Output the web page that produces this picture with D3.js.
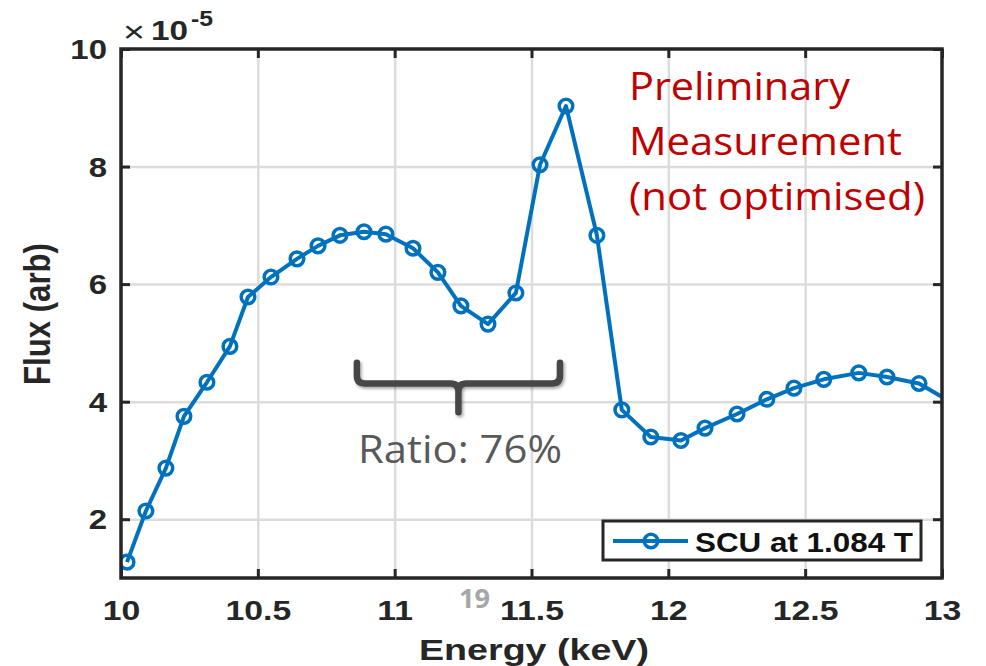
<!DOCTYPE html>
<html>
<head>
<meta charset="utf-8">
<script src="https://cdn.jsdelivr.net/npm/d3@7"></script>
<style>
  html, body { margin: 0; padding: 0; background: #ffffff; }
  svg { display: block; }
</style>
</head>
<body>
<svg id="chart" width="986" height="666"></svg>
<script>
// ---- data ----
const energy = [10.022, 10.091, 10.164, 10.230, 10.314, 10.398, 10.464, 10.548, 10.643, 10.720,
                10.800, 10.888, 10.968, 11.067, 11.158, 11.242, 11.341, 11.443, 11.531, 11.626,
                11.739, 11.830, 11.936, 12.046, 12.134, 12.251, 12.360, 12.459, 12.568, 12.696,
                12.799, 12.916, 13.030];
const flux = [1.27, 2.14, 2.87, 3.75, 4.33, 4.94, 5.78, 6.12, 6.43, 6.65,
              6.83, 6.89, 6.85, 6.61, 6.20, 5.63, 5.32, 5.85, 8.03, 9.03,
              6.83, 3.86, 3.40, 3.34, 3.55, 3.79, 4.04, 4.23, 4.38, 4.49,
              4.42, 4.31, 4.00];
const xTicks = [10, 10.5, 11, 11.5, 12, 12.5, 13];
const yTicks = [2, 4, 6, 8, 10];
const xTickLabels = ["10", "10.5", "11", "11.5", "12", "12.5", "13"];
const yTickLabels = ["2", "4", "6", "8", "10"];
const seriesName = "SCU at 1.084 T";
const noteLines = ["Preliminary", "Measurement", "(not optimised)"];
const ratioLabel = "Ratio: 76%";
const braceRange = [10.862, 11.604];   // energy span of the bracket
const braceLevels = [4.66, 4.31, 3.82]; // top of arms, bar, tip

// ---- layout ----
const svg = d3.select("#chart");
const L = 121, R = 942, T = 49, B = 578;
const x = d3.scaleLinear().domain([10, 13]).range([L, R]);
const y = d3.scaleLinear().domain([1, 10]).range([B, T]);
const axisColor = "#262626";
const lineColor = "#0072BD";

function fitWidth(sel, w) {
  sel.attr("textLength", w).attr("lengthAdjust", "spacingAndGlyphs");
}
function stretch(sel, f) {
  sel.each(function () {
    const w = this.getComputedTextLength();
    this.setAttribute("textLength", w * f);
    this.setAttribute("lengthAdjust", "spacingAndGlyphs");
  });
}

svg.append("defs").append("clipPath").attr("id", "plotclip")
  .append("rect").attr("x", L).attr("y", T).attr("width", R - L).attr("height", B - T);

// ---- grid ----
const gridX = svg.append("g").attr("transform", `translate(0,${B})`)
  .call(d3.axisBottom(x).tickValues(xTicks.slice(1, -1)).tickSize(-(B - T)).tickFormat(""));
const gridY = svg.append("g").attr("transform", `translate(${L},0)`)
  .call(d3.axisLeft(y).tickValues(yTicks.slice(0, -1)).tickSize(-(R - L)).tickFormat(""));
[gridX, gridY].forEach(g => {
  g.select(".domain").remove();
  g.selectAll("line").attr("stroke", "#dcdcdc").attr("stroke-width", 2.5);
});

// ---- data line + markers ----
const pts = energy.map((e, i) => [e, flux[i]]);
const plot = svg.append("g").attr("clip-path", "url(#plotclip)");
plot.append("path")
  .attr("d", d3.line().x(d => x(d[0])).y(d => y(d[1]))(pts))
  .attr("fill", "none").attr("stroke", lineColor).attr("stroke-width", 4)
  .attr("stroke-linejoin", "round");
plot.selectAll("circle.m").data(pts).join("circle")
  .attr("class", "m")
  .attr("cx", d => x(d[0])).attr("cy", d => y(d[1])).attr("r", 6.8)
  .attr("fill", "none").attr("stroke", lineColor).attr("stroke-width", 3.5);

// ---- axes ----
const tickFont = "'Liberation Sans', Arial, sans-serif";
const axB = svg.append("g").attr("transform", `translate(0,${B})`)
  .call(d3.axisBottom(x).tickValues(xTicks).tickSizeInner(-9).tickSizeOuter(0)
        .tickFormat((d, i) => xTickLabels[i]));
axB.selectAll("text").attr("y", 42).attr("dy", 0)
  .attr("font-family", tickFont).attr("font-weight", "bold").attr("font-size", 27)
  .attr("fill", axisColor);
stretch(axB.selectAll("text"), 1.25);

const axL = svg.append("g").attr("transform", `translate(${L},0)`)
  .call(d3.axisLeft(y).tickValues(yTicks).tickSizeInner(-9).tickSizeOuter(0)
        .tickFormat((d, i) => yTickLabels[i]));
axL.selectAll("text").attr("x", -14).attr("dy", "0.36em")
  .attr("font-family", tickFont).attr("font-weight", "bold").attr("font-size", 27)
  .attr("fill", axisColor);
stretch(axL.selectAll("text"), 1.22);

const axT = svg.append("g").attr("transform", `translate(0,${T})`)
  .call(d3.axisTop(x).tickValues(xTicks).tickSizeInner(-9).tickSizeOuter(0).tickFormat(""));
const axR = svg.append("g").attr("transform", `translate(${R},0)`)
  .call(d3.axisRight(y).tickValues(yTicks).tickSizeInner(-9).tickSizeOuter(0).tickFormat(""));
[axB, axL, axT, axR].forEach(g => {
  g.select(".domain").remove();
  g.selectAll("line").attr("stroke", axisColor).attr("stroke-width", 3);
});
svg.append("rect").attr("x", L).attr("y", T).attr("width", R - L).attr("height", B - T)
  .attr("fill", "none").attr("stroke", axisColor).attr("stroke-width", 3.5);

// exponent label
const expo = svg.append("g").attr("fill", axisColor);
expo.append("text").attr("x", 123).attr("y", 42).attr("font-family", tickFont)
  .attr("font-size", 30).attr("font-weight", "normal").text("\u00D7")
  .call(s => fitWidth(s, 22));
expo.append("text").attr("x", 151).attr("y", 40).attr("font-family", tickFont)
  .attr("font-size", 28).attr("font-weight", "bold").text("10")
  .call(s => fitWidth(s, 37));
expo.append("text").attr("x", 191).attr("y", 26).attr("font-family", tickFont)
  .attr("font-size", 22).attr("font-weight", "bold").text("-5")
  .call(s => fitWidth(s, 22));

// axis titles
svg.append("text").attr("x", 534).attr("y", 660).attr("text-anchor", "middle")
  .attr("font-family", tickFont).attr("font-weight", "bold").attr("font-size", 29)
  .attr("fill", axisColor).text("Energy (keV)").call(s => fitWidth(s, 230));
svg.append("g").attr("transform", "translate(50,314) scale(1.23,1) rotate(-90)")
  .append("text").attr("x", 0).attr("y", 0).attr("text-anchor", "middle")
  .attr("font-family", tickFont).attr("font-weight", "bold").attr("font-size", 30)
  .attr("fill", axisColor).text("Flux (arb)").call(s => fitWidth(s, 142));

// ---- legend ----
const lg = svg.append("g");
lg.append("rect").attr("x", 603).attr("y", 521).attr("width", 318).attr("height", 39)
  .attr("fill", "#ffffff").attr("stroke", axisColor).attr("stroke-width", 3);
lg.append("line").attr("x1", 613).attr("x2", 688).attr("y1", 541).attr("y2", 541)
  .attr("stroke", lineColor).attr("stroke-width", 4);
lg.append("circle").attr("cx", 651).attr("cy", 541).attr("r", 6.8)
  .attr("fill", "none").attr("stroke", lineColor).attr("stroke-width", 3.5);
lg.append("text").attr("x", 695).attr("y", 552)
  .attr("font-family", tickFont).attr("font-weight", "bold").attr("font-size", 28)
  .attr("fill", "#111111").text(seriesName).call(s => fitWidth(s, 218));

// ---- annotations ----
const annFont = "'Open Sans', 'Noto Sans', sans-serif";
const noteWidths = [221, 273, 296];
const noteBase = [100, 155, 210];
noteLines.forEach((t, i) => {
  svg.append("text").attr("x", 629).attr("y", noteBase[i])
    .attr("font-family", annFont).attr("font-size", 38).attr("fill", "#C00000")
    .text(t).call(s => fitWidth(s, noteWidths[i]));
});

// bracket
const filt = svg.select("defs").append("filter").attr("id", "shadow")
  .attr("x", "-10%").attr("y", "-30%").attr("width", "120%").attr("height", "160%");
filt.append("feDropShadow").attr("dx", 1.5).attr("dy", 2).attr("stdDeviation", 1.5)
  .attr("flood-color", "#000").attr("flood-opacity", 0.35);
const bx0 = x(braceRange[0]), bx1 = x(braceRange[1]), bxm = x((braceRange[0] + braceRange[1]) / 2);
const by0 = y(braceLevels[0]), by1 = y(braceLevels[1]), by2 = y(braceLevels[2]);
const rr = 8;
const bp = d3.path();
bp.moveTo(bx0, by0);
bp.lineTo(bx0, by1 - rr);
bp.quadraticCurveTo(bx0, by1, bx0 + rr, by1);
bp.lineTo(bxm - rr, by1);
bp.quadraticCurveTo(bxm, by1, bxm, by1 + rr);
bp.lineTo(bxm, by2);
bp.moveTo(bxm, by1 + rr);
bp.quadraticCurveTo(bxm, by1, bxm + rr, by1);
bp.lineTo(bx1 - rr, by1);
bp.quadraticCurveTo(bx1, by1, bx1, by1 - rr);
bp.lineTo(bx1, by0);
svg.append("path").attr("d", bp.toString()).attr("fill", "none")
  .attr("stroke", "#474747").attr("stroke-width", 6.5)
  .attr("stroke-linecap", "round").attr("stroke-linejoin", "round")
  .attr("filter", "url(#shadow)");

svg.append("text").attr("x", 358).attr("y", 463)
  .attr("font-family", annFont).attr("font-size", 38).attr("fill", "#595959")
  .text(ratioLabel).call(s => fitWidth(s, 204));

svg.append("text").attr("x", 459).attr("y", 608)
  .attr("font-family", annFont).attr("font-weight", "bold").attr("font-size", 27)
  .attr("fill", "#a6a6a6").text("19").call(s => fitWidth(s, 31));
</script>
</body>
</html>
